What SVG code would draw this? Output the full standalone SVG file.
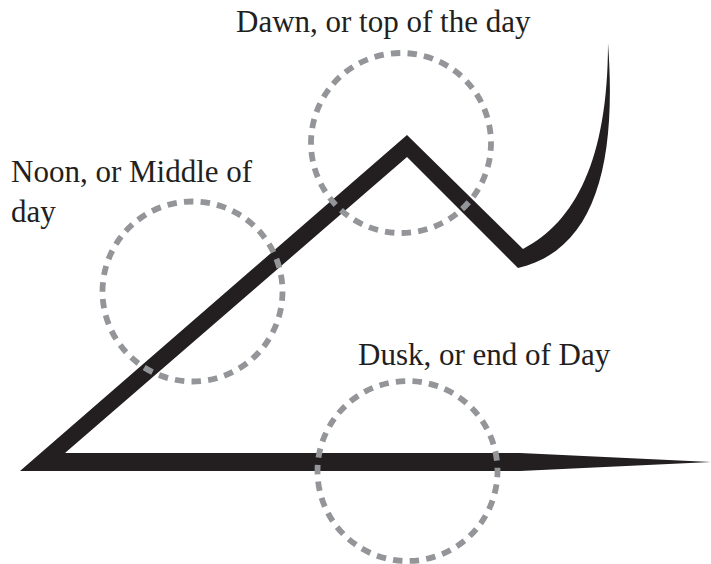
<svg xmlns="http://www.w3.org/2000/svg" width="711" height="564" viewBox="0 0 711 564">
<style>
.lbl{font-family:"Liberation Serif","Times New Roman",serif;font-size:31px;fill:#231f20}
.ring{fill:none;stroke:#939598;stroke-width:5.8;stroke-dasharray:9.4 7.2}
</style>
<rect width="711" height="564" fill="#ffffff"/>
<g id="connectors">
<path id="timeline" fill="#231f20" d="M20,471 L407,135 L523,249 C575,222 608,160 608,43 C617,165 595,250 518,268 L407,157 L65,453 L520,453 L711,462 L520,471 Z"/>
</g>
<g id="dawn">
<circle class="ring" cx="401" cy="143" r="90" transform="rotate(-54 401 143)"/>
<text class="lbl" x="236" y="31.5">Dawn, or top of the day</text>
</g>
<g id="noon">
<circle class="ring" cx="192.5" cy="291.5" r="90" transform="rotate(-53 192.5 291.5)"/>
<text class="lbl" x="11" y="181.5">Noon, or Middle of</text>
<text class="lbl" x="11" y="221.5">day</text>
</g>
<g id="dusk">
<circle class="ring" cx="407.5" cy="471" r="90" transform="rotate(-55 407.5 471)"/>
<text class="lbl" x="358" y="365">Dusk, or end of Day</text>
</g>
</svg>
